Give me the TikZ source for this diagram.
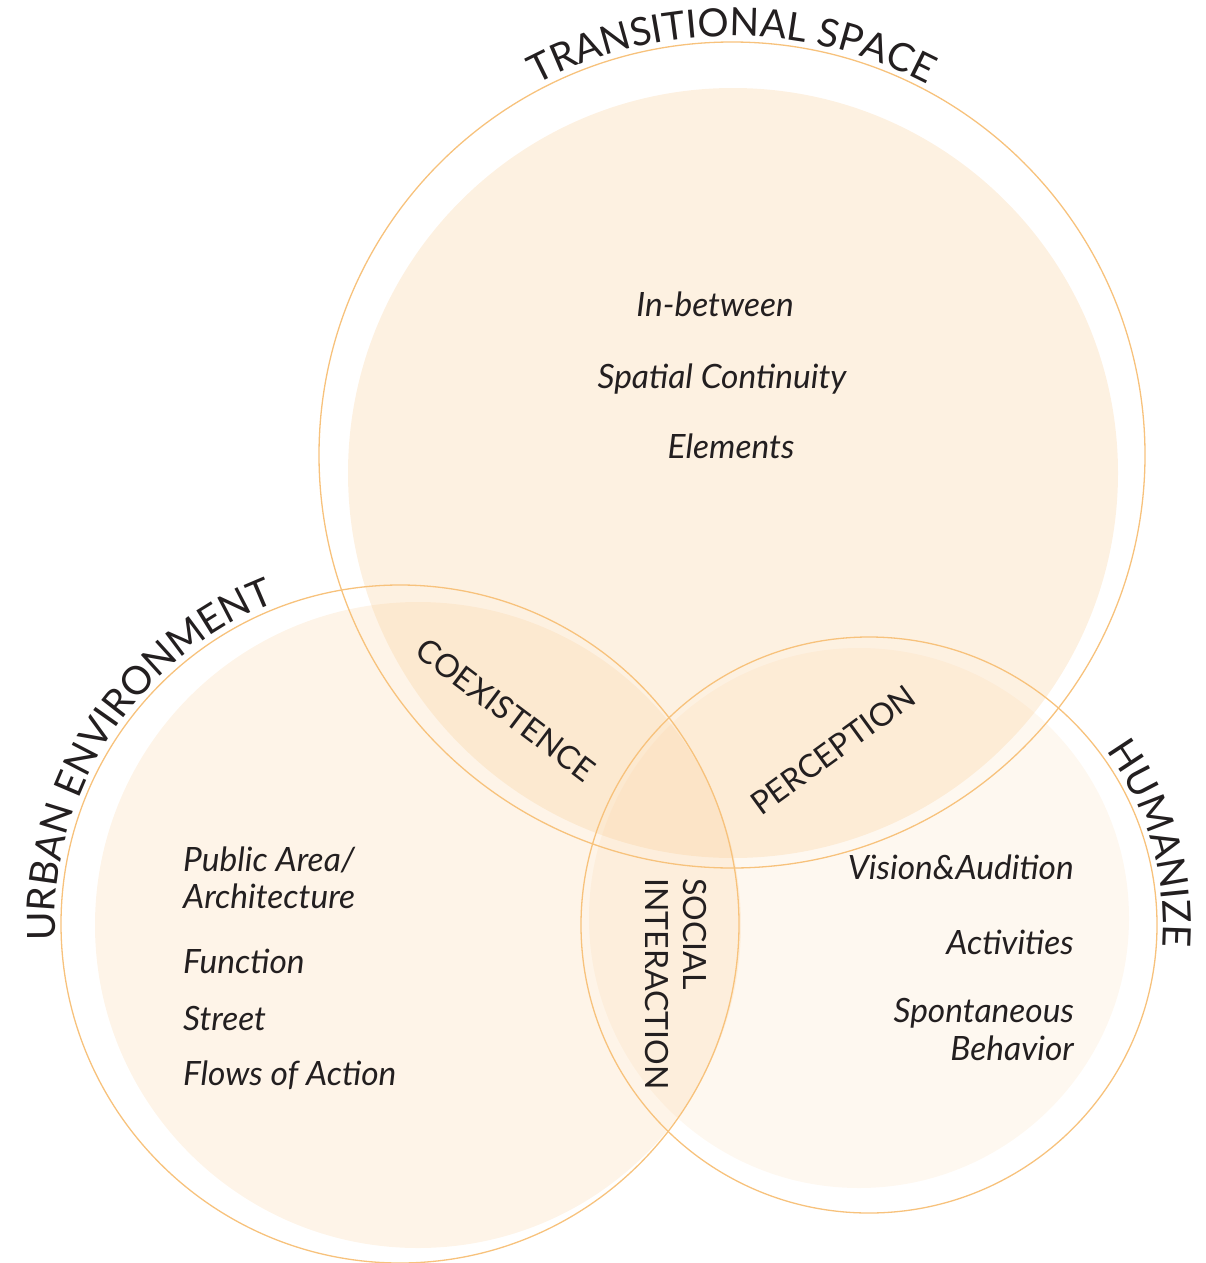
\documentclass[tikz,border=0pt]{standalone}
\usepackage{fontspec}
\setmainfont{Lato}
\usetikzlibrary{decorations.text}
\definecolor{ringline}{HTML}{F7C27C}
\definecolor{ringfill}{HTML}{F8C88C}
\definecolor{ink}{HTML}{231F20}

\begin{document}
\begin{tikzpicture}[x=1pt,y=1pt]
	\tikzset{
		item/.style={font=\fontsize{33.5}{40}\selectfont\itshape, text=ink, inner sep=0pt},
		overlap/.style={font=\fontsize{32}{38}\selectfont, text=ink, inner sep=0pt},
		ring/.style={draw=ringline, line width=1.3pt},
		arctitle/.style={decorate, decoration={text along path, text align=center, text color=ink,
			text={|\fontsize{39}{40}\selectfont|#1}}}
	}
	\useasboundingbox (0,0) rectangle (1205,-1263);
	% soft discs
	\fill[ringfill, fill opacity=.26] (733,-473) circle (385);
	\fill[ringfill, fill opacity=.2] (418,-925) circle (323);
	\fill[ringfill, fill opacity=.13] (859,-918) circle (270);
	% outer rings
	\draw[ring] (732,-455) circle (413);
	\draw[ring] (400,-924) circle (339);
	\draw[ring] (869,-925) circle (288);
	% titles round the rings
	\path[arctitle=TRANSITIONAL SPACE] (732,-455) ++(130:419) arc[start angle=130, end angle=50, radius=419];
	\path[arctitle=URBAN ENVIRONMENT] (400,-924) ++(192:345) arc[start angle=192, end angle=102, radius=345];
	\path[arctitle=HUMANIZE] (869,-925) ++(50:294) arc[start angle=50, end angle=-18, radius=294];
	% overlaps
	\node[overlap, rotate=-37] (coexist) at (506,-710) {COEXISTENCE};
	\node[overlap, rotate=36] (percept) at (833,-750) {PERCEPTION};
	\node[overlap, rotate=-90, align=left, anchor=north west] (social) at (707,-878) {SOCIAL\\INTERACTION};
	% transitional space
	\node[item, anchor=base] (inbetween) at (715,-316) {In-between};
	\node[item, anchor=base] (continuity) at (722,-388) {Spatial Continuity};
	\node[item, anchor=base] (elements) at (731,-458) {Elements};
	% urban environment
	\node[item, anchor=base west] (public) at (183,-871) {Public Area/};
	\node[item, anchor=base west] (archi) at (183,-908) {Architecture};
	\node[item, anchor=base west] (function) at (183,-973) {Function};
	\node[item, anchor=base west] (street) at (183,-1030) {Street};
	\node[item, anchor=base west] (flows) at (183,-1085) {Flows of Action};
	% humanize
	\node[item, anchor=base east] (vision) at (1074,-879) {Vision\&Audition};
	\node[item, anchor=base east] (activities) at (1074,-954) {Activities};
	\node[item, anchor=base east] (spont) at (1074,-1022) {Spontaneous};
	\node[item, anchor=base east] (behavior) at (1074,-1060) {Behavior};
\end{tikzpicture}
\end{document}
